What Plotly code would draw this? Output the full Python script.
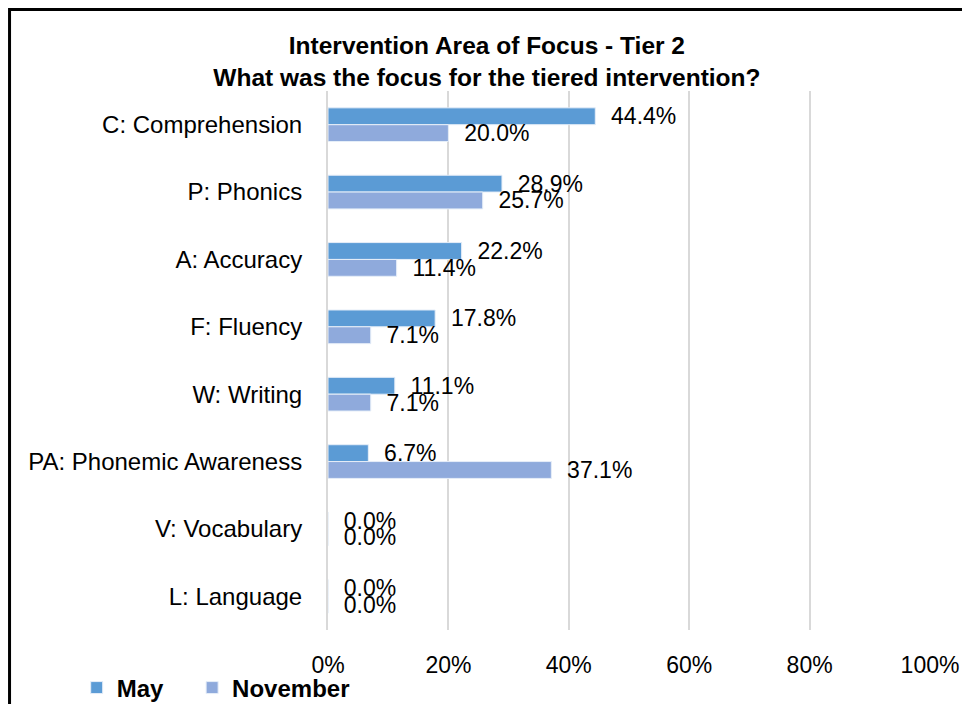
import plotly.graph_objects as go

# Data
categories = ["C: Comprehension", "P: Phonics", "A: Accuracy", "F: Fluency",
              "W: Writing", "PA: Phonemic Awareness", "V: Vocabulary", "L: Language"]
may = [0.444, 0.289, 0.222, 0.178, 0.111, 0.067, 0.0, 0.0]
november = [0.200, 0.257, 0.114, 0.071, 0.071, 0.371, 0.0, 0.0]
x_ticks = [0, 0.2, 0.4, 0.6, 0.8, 1.0]
x_tick_labels = ["0%", "20%", "40%", "60%", "80%", "100%"]

FONT = "Liberation Sans"

fig = go.Figure()

for name, vals, color, leg in [("May", may, "#5B9BD5", "legend"),
                               ("November", november, "#8FAADC", "legend2")]:
    fig.add_trace(go.Bar(
        y=categories,
        x=vals,
        name=name,
        orientation="h",
        marker=dict(color=color, line=dict(color="#E6EEF8", width=1)),
        texttemplate="\u00a0\u00a0%{x:.1%}",
        textposition="outside",
        constraintext="none",
        cliponaxis=False,
        textfont=dict(family=FONT, size=23, color="black"),
        hoverinfo="skip",
        legend=leg,
    ))

legend_style = dict(
    orientation="h",
    xref="container", xanchor="left",
    yref="container", y=0.023, yanchor="middle",
    font=dict(family=FONT, size=24, color="black", weight="bold"),
    bgcolor="rgba(0,0,0,0)",
    itemwidth=30,
)

fig.update_layout(
    width=954,
    height=696,
    barmode="group",
    bargap=0.5,
    bargroupgap=0,
    plot_bgcolor="white",
    paper_bgcolor="white",
    font=dict(family=FONT, size=23, color="black"),
    margin=dict(l=320, r=32, t=83, b=74, autoexpand=False),
    title=dict(
        text="<b>Intervention Area of Focus - Tier 2<br>What was the focus for the tiered intervention?</b>",
        x=0.502, xanchor="center",
        yref="container", y=0.934, yanchor="top",
        font=dict(family=FONT, size=24.5, color="black"),
    ),
    legend=dict(legend_style, x=0.072),
    legend2=dict(legend_style, x=0.193),
    showlegend=True,
)

fig.update_xaxes(
    range=[0, 1],
    tickvals=x_ticks,
    ticktext=x_tick_labels,
    showgrid=True,
    gridcolor="#D9D9D9",
    gridwidth=2,
    zeroline=False,
    showline=False,
    ticks="",
    ticklabelstandoff=19,
    automargin=False,
    tickfont=dict(family=FONT, size=23),
)

fig.update_yaxes(
    autorange="reversed",
    showline=True,
    linecolor="#D9D9D9",
    linewidth=2,
    ticks="",
    ticklabelstandoff=19,
    automargin=False,
    tickfont=dict(family=FONT, size=24),
)

# outer chart border (partially cropped in the reference)
fig.add_shape(type="rect", xref="paper", yref="paper",
              x0=-0.529, x1=1.1, y0=-0.3, y1=1.151,
              line=dict(color="black", width=3), fillcolor="rgba(0,0,0,0)", layer="above")

fig.write_html("out.html")
